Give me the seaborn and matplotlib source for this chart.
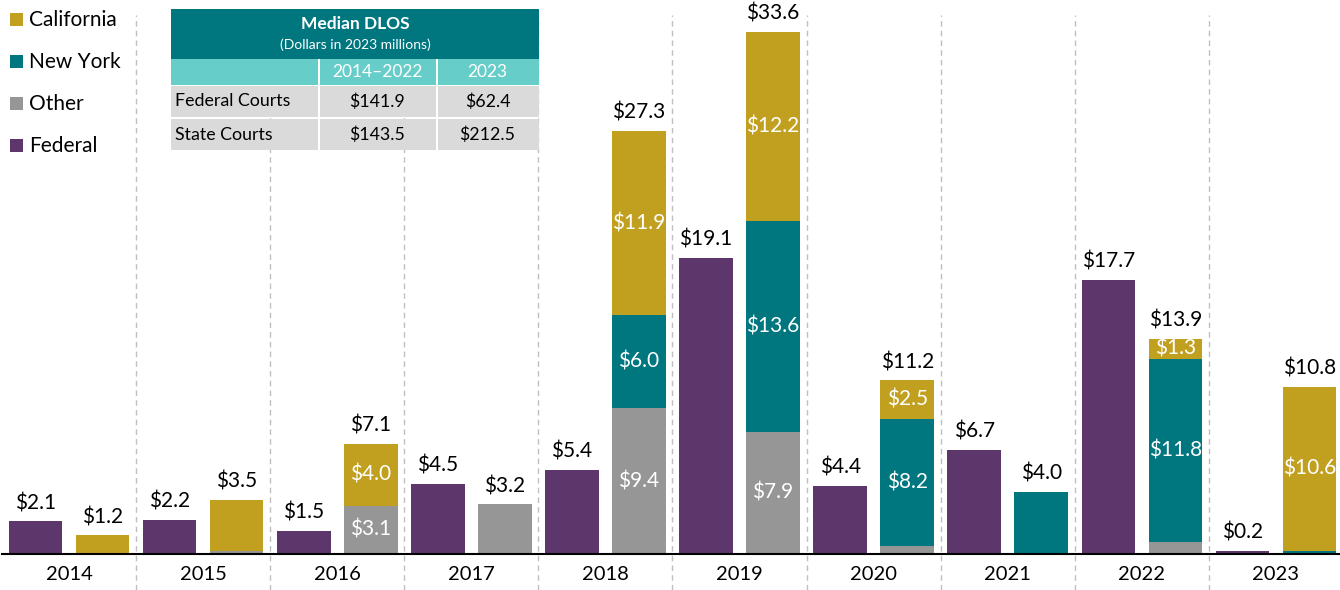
import pandas as pd
import matplotlib
matplotlib.use('Agg')
import matplotlib.pyplot as plt
from matplotlib.patches import Rectangle
import seaborn as sns

sns.set_theme(style="white")
plt.rcParams['font.family'] = ['Lato', 'DejaVu Sans']

# Data (dollars in 2023 millions)
years = ['2014', '2015', '2016', '2017', '2018', '2019', '2020', '2021', '2022', '2023']
federal = [2.1, 2.2, 1.5, 4.5, 5.4, 19.1, 4.4, 6.7, 17.7, 0.2]
state_other = [0.0, 0.2, 3.1, 3.2, 9.4, 7.9, 0.5, 0.0, 0.8, 0.0]
state_ny = [0.0, 0.0, 0.0, 0.0, 6.0, 13.6, 8.2, 4.0, 11.8, 0.2]
state_ca = [1.2, 3.3, 4.0, 0.0, 11.9, 12.2, 2.5, 0.0, 1.3, 10.6]
state_total = [1.2, 3.5, 7.1, 3.2, 27.3, 33.6, 11.2, 4.0, 13.9, 10.8]

# which state segments get a label inside the bar
show_other = [False, False, True, False, True, True, False, False, False, False]
show_ny = [False, False, False, False, True, True, True, False, True, False]
show_ca = [False, False, True, False, True, True, True, False, True, True]

legend_names = ['California', 'New York', 'Other', 'Federal']

table_title = 'Median DLOS'
table_subtitle = '(Dollars in 2023 millions)'
table_cols = ['2014\u20132022', '2023']
table_rows = ['Federal Courts', 'State Courts']
table_vals = [['$141.9', '$62.4'], ['$143.5', '$212.5']]

PURPLE = '#5d366c'
TEAL = '#00767f'
GOLD = '#c2a01f'
GRAY = '#969696'
LTEAL = '#66cdc8'
CELL = '#dadada'

W, H = 1340, 590
fig = plt.figure(figsize=(W / 100, H / 100), dpi=100)
base_px = 554
ppu = 15.5  # pixels per million
ax = fig.add_axes([2 / W, (H - base_px) / H, 1341 / W, base_px / H])


def layer(values, color):
    df = pd.DataFrame({
        'year': years * 2,
        'court': ['Federal'] * len(years) + ['State'] * len(years),
        'value': federal + list(values),
    })
    sns.barplot(data=df, x='year', y='value', hue='court',
                hue_order=['Federal', 'State'],
                palette={'Federal': PURPLE, 'State': color}, saturation=1,
                width=1.0, gap=0.2, errorbar=None, legend=False,
                linewidth=0, ax=ax, zorder=3)


cum_ny = [o + n for o, n in zip(state_other, state_ny)]
cum_ca = [c + a for c, a in zip(cum_ny, state_ca)]
layer(cum_ca, GOLD)
layer(cum_ny, TEAL)
layer(state_other, GRAY)

ax.set_xlim(-0.5, len(years) - 0.5)
ax.set_ylim(0, base_px / ppu)

# dashed separators between years
for i in range(len(years) - 1):
    ax.plot([i + 0.5, i + 0.5], [-(H - base_px) / ppu, 34.8], color='#c0c0c0',
            lw=1, ls=(0, (4, 3)), clip_on=False, zorder=1)

# total labels
for i in range(len(years)):
    ax.annotate(f'${federal[i]:.1f}', (i - 0.25, federal[i]), xytext=(0, 6),
                textcoords='offset points', ha='center', va='bottom', fontsize=15, color='black')
    ax.annotate(f'${state_total[i]:.1f}', (i + 0.25, cum_ca[i]), xytext=(0, 6),
                textcoords='offset points', ha='center', va='bottom', fontsize=15, color='black')

# segment labels
for i in range(len(years)):
    segs = [(state_other[i], 0.0, show_other[i]),
            (state_ny[i], state_other[i], show_ny[i]),
            (state_ca[i], cum_ny[i], show_ca[i])]
    for val, bottom, show in segs:
        if show:
            ax.text(i + 0.25, bottom + val / 2, f'${val:.1f}', ha='center', va='center',
                    fontsize=15, color='white', zorder=5)

sns.despine(ax=ax, left=True)
ax.spines['bottom'].set_color('black')
ax.spines['bottom'].set_linewidth(1.5)
ax.spines['bottom'].set_zorder(4)
ax.set_yticks([])
ax.set_xlabel('')
ax.set_ylabel('')
ax.tick_params(axis='x', length=0, pad=9, labelsize=14.5, labelcolor='black')


def px(x, y):
    return x / W, 1 - y / H


def box(x0, y0, x1, y1, color):
    fx, fy = px(x0, y1)
    fig.patches.append(Rectangle((fx, fy), (x1 - x0) / W, (y1 - y0) / H,
                                 transform=fig.transFigure, color=color, lw=0, zorder=6))


# legend
for k, (name, color) in enumerate(zip(legend_names, [GOLD, TEAL, GRAY, PURPLE])):
    cy = 20 + 42 * k
    box(10, cy - 7, 23, cy + 6, color)
    fig.text(*px(29, cy), name, fontsize=15, ha='left', va='center', color='black', zorder=7)

# table
tx0, tc1, tc2, tx1 = 171, 318, 436, 539
box(tx0, 9, tx1, 59, TEAL)
box(tx0, 59, tx1, 85, LTEAL)
box(tc1, 59, tc1 + 2, 85, 'white')
box(tc2, 59, tc2 + 2, 85, 'white')
fig.text(*px((tx0 + tx1) / 2, 24), table_title, fontsize=12.5, fontweight='bold',
         ha='center', va='center', color='white', zorder=7)
fig.text(*px((tx0 + tx1) / 2, 45), table_subtitle, fontsize=10,
         ha='center', va='center', color='white', zorder=7)
fig.text(*px((tc1 + tc2) / 2, 72), table_cols[0], fontsize=12.5,
         ha='center', va='center', color='white', zorder=7)
fig.text(*px((tc2 + tx1) / 2, 72), table_cols[1], fontsize=12.5,
         ha='center', va='center', color='white', zorder=7)
row_tops = [86, 119]
for r, name in enumerate(table_rows):
    y0 = row_tops[r]
    y1 = y0 + 31
    box(tx0, y0, tc1, y1, CELL)
    box(tc1 + 2, y0, tc2, y1, CELL)
    box(tc2 + 2, y0, tx1, y1, CELL)
    cy = (y0 + y1) / 2
    fig.text(*px(tx0 + 4, cy), name, fontsize=12.8, ha='left', va='center', color='black', zorder=7)
    fig.text(*px((tc1 + tc2) / 2, cy), table_vals[r][0], fontsize=12.8,
             ha='center', va='center', color='black', zorder=7)
    fig.text(*px((tc2 + tx1) / 2, cy), table_vals[r][1], fontsize=12.8,
             ha='center', va='center', color='black', zorder=7)

fig.savefig('out.png', dpi=100)
